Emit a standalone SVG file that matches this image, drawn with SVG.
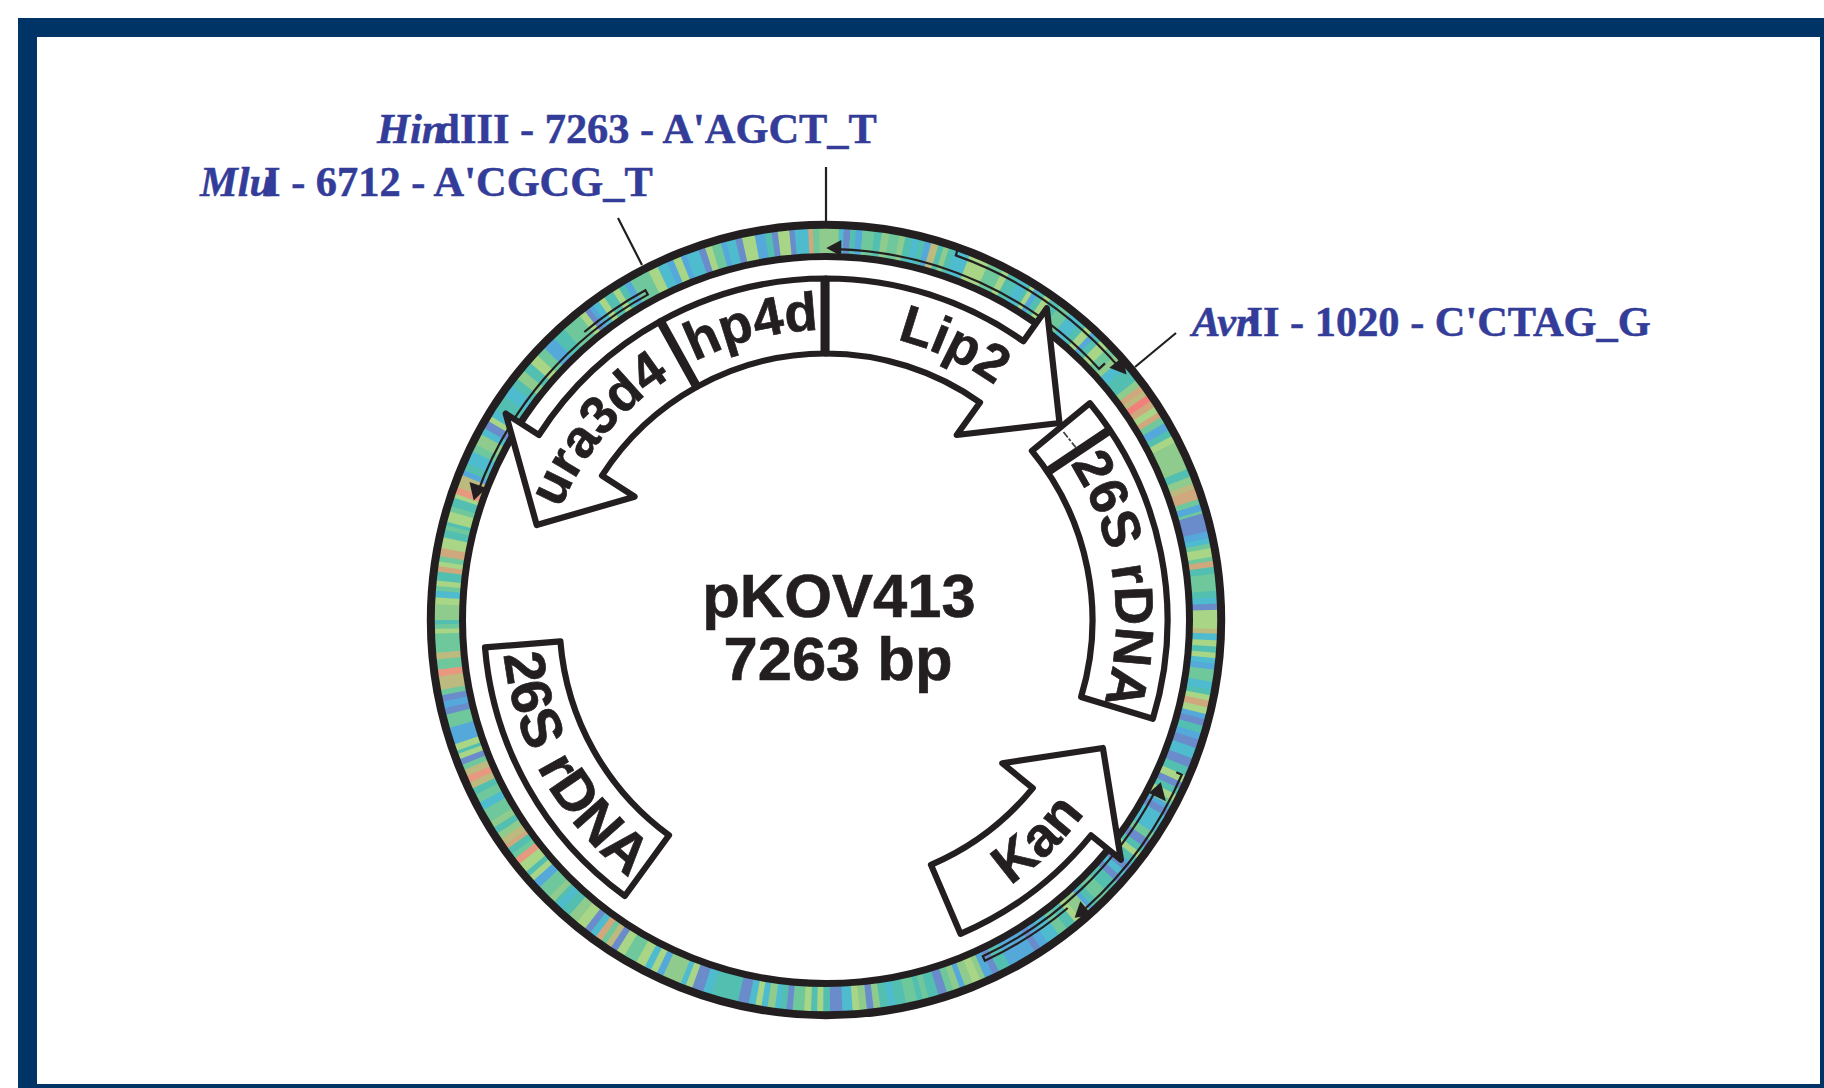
<svg xmlns="http://www.w3.org/2000/svg" width="1824" height="1088" viewBox="0 0 1824 1088">
<style>
.a{fill:#8ecb8c}.b{fill:#6fc79c}.c{fill:#52bfb0}.d{fill:#4fbbcf}.e{fill:#55a9da}.f{fill:#6a8ccb}.g{fill:#a8d586}.h{fill:#bdba80}.i{fill:#cfa87e}.j{fill:#e99880}.k{fill:#f2807a}
.ring{fill:none;stroke:#231f20}
.feat{fill:#fff;stroke:#231f20;stroke-width:6.2;stroke-linejoin:round}
.sep{stroke:#231f20;stroke-width:9;fill:none}
.lbl{font-family:"Liberation Sans",Arial,sans-serif;font-weight:700;font-size:53px;fill:#231f20;stroke:#231f20;stroke-width:.7}
.title{font-family:"Liberation Sans",Arial,sans-serif;font-weight:700;font-size:61.5px;fill:#231f20;stroke:#231f20;stroke-width:.6;text-anchor:middle}
.site{font-family:"Liberation Serif","Times New Roman",serif;font-weight:700;font-size:42.4px;fill:#333d99;stroke:#333d99;stroke-width:.5}
.it{font-style:italic}
.thin{fill:none;stroke:#231f20;stroke-width:2.2}
.lead{fill:none;stroke:#231f20;stroke-width:2.2}
.head{fill:#231f20}
</style>
<defs>
<path id="w" d="M0-394A394 394 0 0 1 54.83-390.17L50.66-360.46A364 364 0 0 0 0-364Z"/>
<path id="n" d="M0-394A394 394 0 0 1 6.88-393.94L6.35-363.94A364 364 0 0 0 0-364Z"/>
<path id="p-hp" d="M685.4 366.4A290 290 0 0 1 826 330"/>
<path id="p-lip" d="M851.2 332.1A289 289 0 0 1 1030.4 415.6"/>
<path id="p-ura" d="M547.8 545.5A288 288 0 0 1 704.3 359"/>
<path id="p-rr" d="M1054.5 441.4A290 290 0 0 1 1094.9 728.6"/>
<path id="p-rl" d="M502 620A324 324 0 0 0 664 900.6"/>
<path id="p-kan" d="M957.4 915.1A323 323 0 0 0 1116.3 761.6"/>
</defs>
<path fill="#003366" fill-rule="evenodd" d="M18 18H1824V1088H18ZM37 37V1084H1820V37Z"/>
<g id="backbone">
<g transform="translate(826 620)">
<use class="a" href="#w"/><use class="d" href="#w" transform="rotate(1.9)"/><use class="f" href="#w" transform="rotate(2.6)"/><use class="c" href="#w" transform="rotate(3.6)"/><use class="e" href="#w" transform="rotate(4.4)"/><use class="b" href="#w" transform="rotate(5.4)"/><use class="c" href="#w" transform="rotate(7.1)"/><use class="a" href="#w" transform="rotate(8.2)"/><use class="b" href="#w" transform="rotate(9.3)"/><use class="a" href="#w" transform="rotate(10.8)"/><use class="c" href="#w" transform="rotate(11.7)"/><use class="d" href="#w" transform="rotate(12.8)"/><use class="c" href="#w" transform="rotate(13.8)"/><use class="e" href="#w" transform="rotate(14.7)"/><use class="h" href="#w" transform="rotate(15.6)"/><use class="c" href="#w" transform="rotate(16.7)"/><use class="a" href="#w" transform="rotate(17.5)"/><use class="c" href="#w" transform="rotate(18.3)"/><use class="d" href="#w" transform="rotate(19.2)"/><use class="g" href="#w" transform="rotate(21.5)"/><use class="b" href="#w" transform="rotate(24.5)"/><use class="g" href="#w" transform="rotate(26.8)"/><use class="c" href="#w" transform="rotate(27.8)"/><use class="d" href="#w" transform="rotate(29.5)"/><use class="c" href="#w" transform="rotate(31)"/><use class="g" href="#w" transform="rotate(31.5)"/><use class="e" href="#w" transform="rotate(32.2)"/><use class="c" href="#w" transform="rotate(33)"/><use class="g" href="#w" transform="rotate(34)"/><use class="c" href="#w" transform="rotate(35)"/><use class="b" href="#w" transform="rotate(36.6)"/><use class="d" href="#w" transform="rotate(38.5)"/><use class="c" href="#w" transform="rotate(40.5)"/><use class="g" href="#w" transform="rotate(41.5)"/><use class="e" href="#w" transform="rotate(42.7)"/><use class="c" href="#w" transform="rotate(43.5)"/><use class="g" href="#w" transform="rotate(44.5)"/><use class="b" href="#w" transform="rotate(46)"/><use class="a" href="#w" transform="rotate(47.5)"/><use class="d" href="#w" transform="rotate(48.5)"/><use class="c" href="#w" transform="rotate(50)"/><use class="a" href="#w" transform="rotate(52.3)"/><use class="i" href="#w" transform="rotate(53.3)"/><use class="h" href="#w" transform="rotate(54.2)"/><use class="k" href="#w" transform="rotate(55)"/><use class="i" href="#w" transform="rotate(56)"/><use class="g" href="#w" transform="rotate(57)"/><use class="i" href="#w" transform="rotate(58)"/><use class="b" href="#w" transform="rotate(58.8)"/><use class="e" href="#w" transform="rotate(59.8)"/><use class="c" href="#w" transform="rotate(61)"/><use class="g" href="#w" transform="rotate(62)"/><use class="a" href="#w" transform="rotate(63)"/><use class="c" href="#w" transform="rotate(67.3)"/><use class="a" href="#w" transform="rotate(68.5)"/><use class="h" href="#w" transform="rotate(69.6)"/><use class="i" href="#w" transform="rotate(70.4)"/><use class="b" href="#w" transform="rotate(72)"/><use class="e" href="#w" transform="rotate(72.8)"/><use class="b" href="#w" transform="rotate(73.8)"/><use class="f" href="#w" transform="rotate(74.2)"/><use class="e" href="#w" transform="rotate(76.9)"/><use class="d" href="#w" transform="rotate(77.9)"/><use class="b" href="#w" transform="rotate(78.7)"/><use class="g" href="#w" transform="rotate(79.4)"/><use class="b" href="#w" transform="rotate(80.7)"/><use class="i" href="#w" transform="rotate(81.3)"/><use class="c" href="#w" transform="rotate(82.2)"/><use class="b" href="#w" transform="rotate(83.2)"/><use class="c" href="#w" transform="rotate(85.7)"/><use class="d" href="#w" transform="rotate(86.7)"/><use class="f" href="#w" transform="rotate(87.6)"/><use class="g" href="#w" transform="rotate(88.5)"/><use class="h" href="#w" transform="rotate(91.3)"/><use class="d" href="#w" transform="rotate(92)"/><use class="g" href="#w" transform="rotate(93)"/><use class="c" href="#w" transform="rotate(93.9)"/><use class="g" href="#w" transform="rotate(94.8)"/><use class="d" href="#w" transform="rotate(95.6)"/><use class="e" href="#w" transform="rotate(96.4)"/><use class="b" href="#w" transform="rotate(97.3)"/><use class="d" href="#w" transform="rotate(99.1)"/><use class="c" href="#w" transform="rotate(100.3)"/><use class="g" href="#w" transform="rotate(101.1)"/><use class="i" href="#w" transform="rotate(101.9)"/><use class="g" href="#w" transform="rotate(102.9)"/><use class="e" href="#w" transform="rotate(103.9)"/><use class="f" href="#w" transform="rotate(104.7)"/><use class="c" href="#w" transform="rotate(105.7)"/><use class="e" href="#w" transform="rotate(106.8)"/><use class="f" href="#w" transform="rotate(107.8)"/><use class="d" href="#w" transform="rotate(109.1)"/><use class="f" href="#w" transform="rotate(110.7)"/><use class="c" href="#w" transform="rotate(112.1)"/><use class="g" href="#w" transform="rotate(113.4)"/><use class="f" href="#w" transform="rotate(114.5)"/><use class="c" href="#w" transform="rotate(115.5)"/><use class="g" href="#w" transform="rotate(116.5)"/><use class="b" href="#w" transform="rotate(117.5)"/><use class="e" href="#w" transform="rotate(118.3)"/><use class="f" href="#w" transform="rotate(119)"/><use class="d" href="#w" transform="rotate(120)"/><use class="b" href="#w" transform="rotate(123)"/><use class="f" href="#w" transform="rotate(124.2)"/><use class="c" href="#w" transform="rotate(125.5)"/><use class="g" href="#w" transform="rotate(126.5)"/><use class="c" href="#w" transform="rotate(127.4)"/><use class="e" href="#w" transform="rotate(128.5)"/><use class="f" href="#w" transform="rotate(129)"/><use class="d" href="#w" transform="rotate(130)"/><use class="f" href="#w" transform="rotate(131)"/><use class="c" href="#w" transform="rotate(132)"/><use class="b" href="#w" transform="rotate(134)"/><use class="c" href="#w" transform="rotate(136)"/><use class="e" href="#w" transform="rotate(137)"/><use class="a" href="#w" transform="rotate(137.7)"/><use class="g" href="#w" transform="rotate(139.5)"/><use class="c" href="#w" transform="rotate(140.5)"/><use class="b" href="#w" transform="rotate(142)"/><use class="d" href="#w" transform="rotate(143.5)"/><use class="e" href="#w" transform="rotate(145.5)"/><use class="f" href="#w" transform="rotate(146.8)"/><use class="e" href="#w" transform="rotate(147.8)"/><use class="c" href="#w" transform="rotate(152)"/><use class="f" href="#w" transform="rotate(153.8)"/><use class="e" href="#w" transform="rotate(154.8)"/><use class="a" href="#w" transform="rotate(156)"/><use class="g" href="#w" transform="rotate(156.8)"/><use class="a" href="#w" transform="rotate(158)"/><use class="e" href="#w" transform="rotate(159.2)"/><use class="a" href="#w" transform="rotate(160)"/><use class="b" href="#w" transform="rotate(161)"/><use class="f" href="#w" transform="rotate(162)"/><use class="c" href="#w" transform="rotate(163.3)"/><use class="b" href="#w" transform="rotate(164.8)"/><use class="c" href="#w" transform="rotate(165.7)"/><use class="b" href="#w" transform="rotate(166.5)"/><use class="c" href="#w" transform="rotate(168.2)"/><use class="d" href="#w" transform="rotate(169.8)"/><use class="c" href="#w" transform="rotate(170.8)"/><use class="a" href="#w" transform="rotate(172)"/><use class="f" href="#w" transform="rotate(173)"/><use class="a" href="#w" transform="rotate(174)"/><use class="g" href="#w" transform="rotate(175.1)"/><use class="d" href="#w" transform="rotate(176.1)"/><use class="f" href="#w" transform="rotate(177.6)"/><use class="c" href="#w" transform="rotate(179.4)"/><use class="g" href="#w" transform="rotate(180.4)"/><use class="c" href="#w" transform="rotate(181.3)"/><use class="g" href="#w" transform="rotate(182.2)"/><use class="b" href="#w" transform="rotate(183.2)"/><use class="f" href="#w" transform="rotate(184.9)"/><use class="c" href="#w" transform="rotate(185.8)"/><use class="d" href="#w" transform="rotate(186.7)"/><use class="a" href="#w" transform="rotate(187.5)"/><use class="d" href="#w" transform="rotate(188.6)"/><use class="g" href="#w" transform="rotate(189.5)"/><use class="d" href="#w" transform="rotate(190.4)"/><use class="f" href="#w" transform="rotate(191.4)"/><use class="c" href="#w" transform="rotate(193)"/><use class="d" href="#w" transform="rotate(197)"/><use class="f" href="#w" transform="rotate(198.3)"/><use class="g" href="#w" transform="rotate(200)"/><use class="d" href="#w" transform="rotate(201)"/><use class="a" href="#w" transform="rotate(201.8)"/><use class="e" href="#w" transform="rotate(204.6)"/><use class="g" href="#w" transform="rotate(205.6)"/><use class="d" href="#w" transform="rotate(206.6)"/><use class="g" href="#w" transform="rotate(207.6)"/><use class="b" href="#w" transform="rotate(209)"/><use class="g" href="#w" transform="rotate(211)"/><use class="f" href="#w" transform="rotate(212.3)"/><use class="h" href="#w" transform="rotate(213.3)"/><use class="b" href="#w" transform="rotate(214.2)"/><use class="i" href="#w" transform="rotate(215)"/><use class="d" href="#w" transform="rotate(216)"/><use class="f" href="#w" transform="rotate(217)"/><use class="g" href="#w" transform="rotate(218)"/><use class="a" href="#w" transform="rotate(219.5)"/><use class="c" href="#w" transform="rotate(221)"/><use class="d" href="#w" transform="rotate(222.4)"/><use class="c" href="#w" transform="rotate(223.4)"/><use class="a" href="#w" transform="rotate(224)"/><use class="b" href="#w" transform="rotate(225)"/><use class="e" href="#w" transform="rotate(227)"/><use class="g" href="#w" transform="rotate(228.3)"/><use class="c" href="#w" transform="rotate(229.2)"/><use class="g" href="#w" transform="rotate(230)"/><use class="j" href="#w" transform="rotate(231.5)"/><use class="b" href="#w" transform="rotate(232.5)"/><use class="c" href="#w" transform="rotate(233.3)"/><use class="i" href="#w" transform="rotate(234.3)"/><use class="h" href="#w" transform="rotate(235)"/><use class="a" href="#w" transform="rotate(236)"/><use class="c" href="#w" transform="rotate(237)"/><use class="a" href="#w" transform="rotate(238)"/><use class="b" href="#w" transform="rotate(239)"/><use class="d" href="#w" transform="rotate(241)"/><use class="b" href="#w" transform="rotate(242.2)"/><use class="c" href="#w" transform="rotate(243.5)"/><use class="h" href="#w" transform="rotate(244.5)"/><use class="j" href="#w" transform="rotate(245.5)"/><use class="h" href="#w" transform="rotate(246.5)"/><use class="b" href="#w" transform="rotate(247.5)"/><use class="f" href="#w" transform="rotate(248.3)"/><use class="g" href="#w" transform="rotate(249.2)"/><use class="c" href="#w" transform="rotate(250)"/><use class="g" href="#w" transform="rotate(250.5)"/><use class="e" href="#w" transform="rotate(251.5)"/><use class="b" href="#w" transform="rotate(254)"/><use class="f" href="#w" transform="rotate(256)"/><use class="e" href="#w" transform="rotate(257)"/><use class="f" href="#w" transform="rotate(258)"/><use class="b" href="#w" transform="rotate(258.9)"/><use class="h" href="#w" transform="rotate(259.7)"/><use class="j" href="#w" transform="rotate(261.7)"/><use class="b" href="#w" transform="rotate(262.7)"/><use class="h" href="#w" transform="rotate(264.2)"/><use class="b" href="#w" transform="rotate(265.2)"/><use class="g" href="#w" transform="rotate(268)"/><use class="b" href="#w" transform="rotate(268.7)"/><use class="c" href="#w" transform="rotate(269.4)"/><use class="a" href="#w" transform="rotate(270)"/><use class="g" href="#w" transform="rotate(272.3)"/><use class="d" href="#w" transform="rotate(273.3)"/><use class="b" href="#w" transform="rotate(274.3)"/><use class="g" href="#w" transform="rotate(275)"/><use class="c" href="#w" transform="rotate(275.8)"/><use class="i" href="#w" transform="rotate(277.1)"/><use class="g" href="#w" transform="rotate(277.9)"/><use class="b" href="#w" transform="rotate(278.6)"/><use class="i" href="#w" transform="rotate(279.4)"/><use class="g" href="#w" transform="rotate(280.6)"/><use class="c" href="#w" transform="rotate(282.2)"/><use class="b" href="#w" transform="rotate(283.3)"/><use class="c" href="#w" transform="rotate(284)"/><use class="g" href="#w" transform="rotate(284.5)"/><use class="b" href="#w" transform="rotate(286.1)"/><use class="c" href="#w" transform="rotate(286.9)"/><use class="g" href="#w" transform="rotate(288.2)"/><use class="j" href="#w" transform="rotate(288.8)"/><use class="h" href="#w" transform="rotate(289.8)"/><use class="e" href="#w" transform="rotate(291.7)"/><use class="c" href="#w" transform="rotate(292.5)"/><use class="d" href="#w" transform="rotate(293.6)"/><use class="b" href="#w" transform="rotate(295.5)"/><use class="a" href="#w" transform="rotate(296.6)"/><use class="d" href="#w" transform="rotate(298.3)"/><use class="f" href="#w" transform="rotate(299.3)"/><use class="g" href="#w" transform="rotate(300.5)"/><use class="d" href="#w" transform="rotate(301.3)"/><use class="c" href="#w" transform="rotate(302.5)"/><use class="d" href="#w" transform="rotate(304.8)"/><use class="c" href="#w" transform="rotate(306.7)"/><use class="a" href="#w" transform="rotate(308)"/><use class="c" href="#w" transform="rotate(309.5)"/><use class="g" href="#w" transform="rotate(311)"/><use class="b" href="#w" transform="rotate(312.5)"/><use class="e" href="#w" transform="rotate(314)"/><use class="c" href="#w" transform="rotate(316)"/><use class="b" href="#w" transform="rotate(318)"/><use class="g" href="#w" transform="rotate(321)"/><use class="f" href="#w" transform="rotate(322)"/><use class="e" href="#w" transform="rotate(322.8)"/><use class="d" href="#w" transform="rotate(323.5)"/><use class="g" href="#w" transform="rotate(324.5)"/><use class="c" href="#w" transform="rotate(325.5)"/><use class="g" href="#w" transform="rotate(327)"/><use class="c" href="#w" transform="rotate(328)"/><use class="e" href="#w" transform="rotate(329)"/><use class="b" href="#w" transform="rotate(330)"/><use class="g" href="#w" transform="rotate(333)"/><use class="d" href="#w" transform="rotate(334.5)"/><use class="e" href="#w" transform="rotate(336)"/><use class="g" href="#w" transform="rotate(337)"/><use class="e" href="#w" transform="rotate(338.2)"/><use class="d" href="#w" transform="rotate(339)"/><use class="f" href="#w" transform="rotate(341)"/><use class="g" href="#w" transform="rotate(342)"/><use class="b" href="#w" transform="rotate(343)"/><use class="e" href="#w" transform="rotate(344.4)"/><use class="d" href="#w" transform="rotate(345.2)"/><use class="f" href="#w" transform="rotate(346.6)"/><use class="g" href="#w" transform="rotate(347.6)"/><use class="e" href="#w" transform="rotate(349.5)"/><use class="c" href="#w" transform="rotate(351)"/><use class="f" href="#w" transform="rotate(352)"/><use class="g" href="#w" transform="rotate(352.9)"/><use class="f" href="#w" transform="rotate(354.6)"/><use class="d" href="#w" transform="rotate(355.4)"/><use class="i" href="#w" transform="rotate(357.4)"/><use class="b" href="#w" transform="rotate(358.1)"/><use class="a" href="#w" transform="rotate(359)"/>
<use class="a" href="#n"/><use class="a" href="#n" transform="rotate(1)"/><use class="d" href="#n" transform="rotate(1.9)"/><use class="f" href="#n" transform="rotate(2.6)"/><use class="c" href="#n" transform="rotate(3.6)"/><use class="e" href="#n" transform="rotate(4.4)"/><use class="b" href="#n" transform="rotate(5.4)"/><use class="b" href="#n" transform="rotate(6.1)"/>
</g>
<circle class="ring" cx="826" cy="620" r="395.2" stroke-width="8"/>
<circle class="ring" cx="826" cy="620" r="363.5" stroke-width="7"/>
</g>
<g id="connectors">
<path class="lead" d="M826 167V222M618 218L642 265M1176 333L1135 367"/>
<path class="thin" d="M957.2 250.7L955.8 255.4A387 387 0 0 1 1118.1 366.1"/>
<path class="thin" d="M1105 363.4L1099.1 368.9A371 371 0 0 0 835.7 249.1"/>
<path class="thin" d="M1176.3 772.3L1181.8 774.7A388 388 0 0 1 1085.6 908.3"/>
<path class="thin" d="M1067.7 908A376 376 0 0 1 984.9 960.8L982.8 956.2A371 371 0 0 0 1153.6 794.2"/>
<path class="thin" d="M584.3 332A376 376 0 0 1 645.4 290.2L647.8 294.6A371 371 0 0 0 477.4 493.1"/>
<g transform="translate(826 620)">
<polygon class="head" points="-1,-372 14,-380 14,-364" transform="rotate(0.2)"/>
<polygon class="head" points="1,-388 -15,-397 -15,-379" transform="rotate(50.6)"/>
<polygon class="head" points="-1,-372 14,-385 14,-366" transform="rotate(116)"/>
<polygon class="head" points="1,-388 -14,-397 -14,-379" transform="rotate(140)"/>
<polygon class="head" points="-1,-372 15,-382 15,-364" transform="rotate(288.9)"/>
</g>
</g>
<g id="node-lip2">
<path class="feat" d="M826 278.5A341.5 341.5 0 0 1 1023.4 341.3L1046.8 308.2L1059.5 423L956.7 435L980 402.5A266.5 266.5 0 0 0 826 353.5Z"/>
<text class="lbl"><textPath href="#p-lip" startOffset="50%" text-anchor="middle">Lip2</textPath></text>
</g>
<g id="node-ura3d4">
<path class="feat" d="M660.4 321.3A341.5 341.5 0 0 0 538.9 435L505.7 413.6L536.7 525L634.6 496.7L602 475.6A266.5 266.5 0 0 1 696.8 386.9Z"/>
<text class="lbl"><textPath href="#p-ura" startOffset="50%" text-anchor="middle">ura3d4</textPath></text>
</g>
<g id="node-hp4d">
<path class="feat" d="M660.4 321.3A341.5 341.5 0 0 1 826 278.5V353.5A266.5 266.5 0 0 0 696.8 386.9Z"/>
<path class="sep" d="M660.4 321.3L696.8 386.9M825 276V356"/>
<text class="lbl" style="font-size:54px"><textPath href="#p-hp" startOffset="51%" text-anchor="middle">hp4d</textPath></text>
</g>
<g id="node-26s-right">
<path class="feat" d="M1089.9 403.2A341.5 341.5 0 0 1 1152.9 718.7L1081.1 697A266.5 266.5 0 0 0 1031.9 450.9Z"/>
<path class="sep" d="M1109.8 430L1047.5 471.7"/>
<path d="M1063.5 432L1077 449" fill="none" stroke="#444" stroke-width="1.8" stroke-dasharray="7 1.5 3 2"/>
<text class="lbl" style="font-size:54px"><textPath href="#p-rr" startOffset="50%" text-anchor="middle">26S rDNA</textPath></text>
</g>
<g id="node-26s-left">
<path class="feat" d="M485 647.4A342 342 0 0 0 624.8 896L669 835.3A266.5 266.5 0 0 1 560.4 641.4Z"/>
<text class="lbl" style="font-size:57px"><textPath href="#p-rl" startOffset="49%" text-anchor="middle">26S rDNA</textPath></text>
</g>
<g id="node-kan">
<path class="feat" d="M960.5 933.9A341.5 341.5 0 0 0 1091 835.4L1120.9 859.7L1102.9 748L1002.2 763.2L1032.8 788.1A266.5 266.5 0 0 1 931 864.9Z"/>
<text class="lbl" style="font-size:55px"><textPath href="#p-kan" startOffset="50%" text-anchor="middle">Kan</textPath></text>
</g>
<g id="node-title">
<text class="title" x="839" y="617">pKOV413</text>
<text class="title" x="838" y="680">7263 bp</text>
</g>
<g id="site-hindiii"><text class="site" x="377" y="143"><tspan class="it">Hi</tspan><tspan class="it" letter-spacing="-9">n</tspan><tspan>dIII - 7263 - A'AGCT_T</tspan></text></g>
<g id="site-mlui"><text class="site" x="200" y="196"><tspan class="it">Ml</tspan><tspan class="it" letter-spacing="-9">u</tspan><tspan>I - 6712 - A'CGCG_T</tspan></text></g>
<g id="site-avrii"><text class="site" x="1192" y="336"><tspan class="it">Av</tspan><tspan class="it" letter-spacing="-6">r</tspan><tspan>II - 1020 - C'CTAG_G</tspan></text></g>
</svg>
